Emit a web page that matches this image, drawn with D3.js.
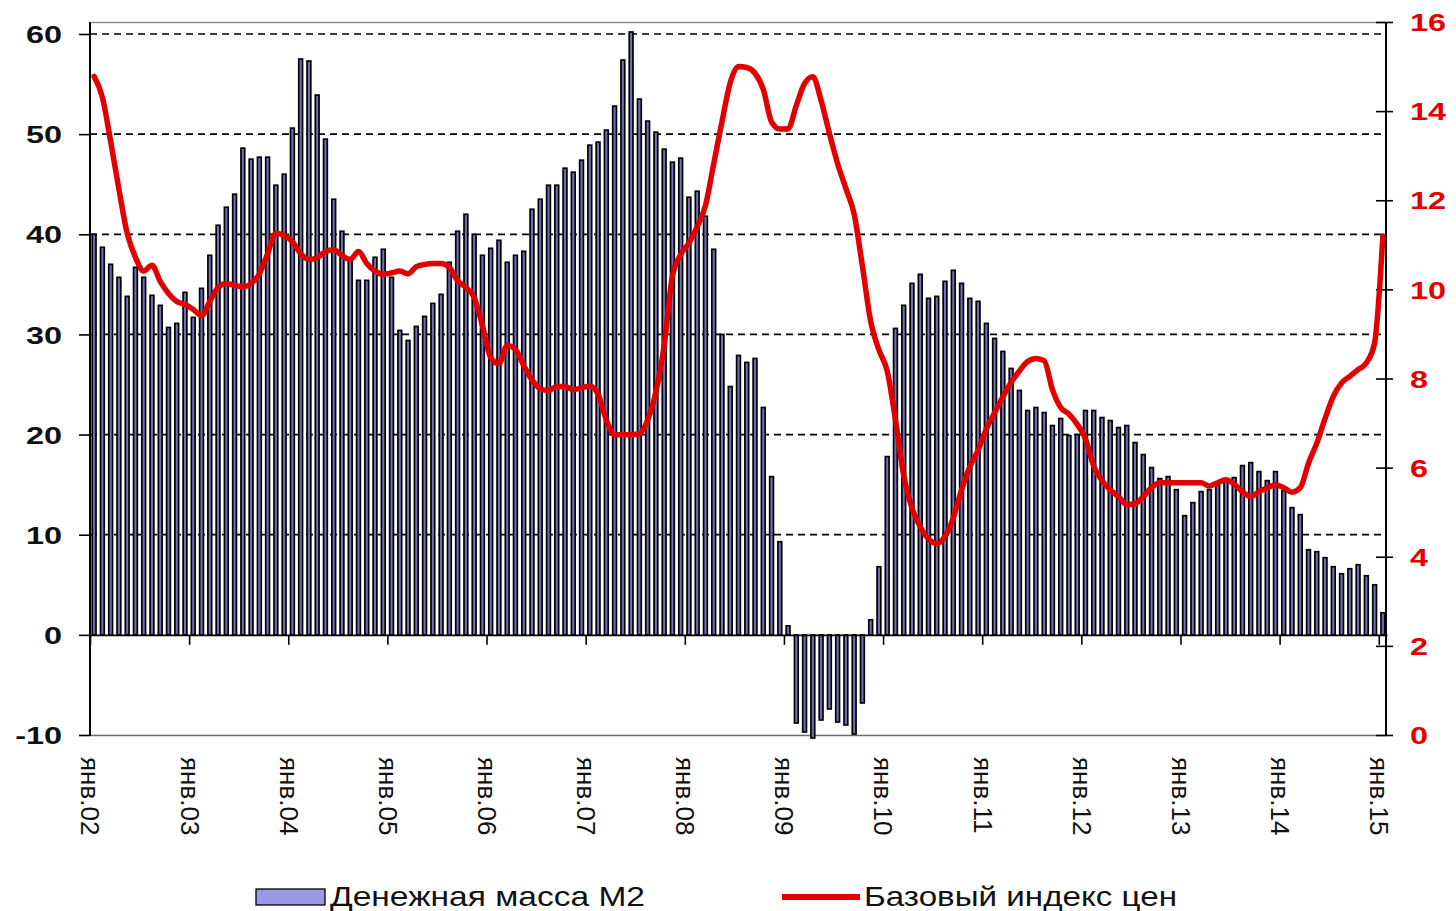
<!DOCTYPE html>
<html>
<head>
<meta charset="utf-8">
<script src="https://cdn.jsdelivr.net/npm/d3@7"></script>
<style>
  html, body { margin: 0; padding: 0; background: #fff; }
  svg { display: block; }
</style>
</head>
<body>
<svg id="chart" width="1456" height="911"></svg>
<script>
// ---------- data ----------
const startMonth = new Date(2002, 0, 1);
const endMonth = new Date(2015, 1, 1); // exclusive -> Jan 2002 .. Jan 2015
const months = d3.timeMonth.range(startMonth, endMonth);

const m2Values = [
  40.0, 38.7, 37.0, 35.7, 33.8, 36.7, 35.7, 33.9, 32.9, 30.7, 31.1, 34.2,
  31.7, 34.6, 37.9, 40.9, 42.7, 44.0, 48.6, 47.5, 47.7, 47.7, 44.9, 46.0,
  50.6, 57.5, 57.3, 53.9, 49.5, 43.5, 40.3, 37.4, 35.4, 35.4, 37.7, 38.5,
  35.7, 30.4, 29.4, 30.8, 31.8, 33.1, 34.0, 37.2, 40.3, 42.0, 40.0, 37.9,
  38.6, 39.4, 37.2, 37.9, 38.3, 42.5, 43.5, 44.9, 44.9, 46.6, 46.2, 47.4,
  48.9, 49.2, 50.4, 52.8, 57.4, 60.2, 53.5, 51.3, 50.2, 48.5, 47.2, 47.6,
  43.7, 44.3, 41.8, 38.5, 30.0, 24.8, 27.9, 27.2, 27.6, 22.7, 15.8, 9.3,
  0.9, -8.8, -9.7, -10.3, -8.5, -7.4, -8.7, -9.0, -9.9, -6.8, 1.5, 6.8,
  17.8, 30.6, 32.9, 35.1, 36.0, 33.6, 33.8, 35.3, 36.4, 35.1, 33.6, 33.3,
  31.1, 29.6, 28.3, 26.6, 24.4, 22.4, 22.7, 22.2, 20.9, 21.6, 19.9, 20.0,
  22.4, 22.4, 21.7, 21.4, 20.7, 20.9, 19.2, 18.0, 16.7, 15.6, 15.8, 14.5,
  11.9, 13.2, 14.3, 14.5, 15.0, 15.4, 15.7, 16.9, 17.2, 16.3, 15.4, 16.3,
  14.4, 12.7, 12.0, 8.5, 8.3, 7.7, 6.8, 6.1, 6.6, 7.0, 5.9, 5.0,
  2.2
];

const cpiValues = [
  14.78, 14.31, 13.32, 12.25, 11.26, 10.72, 10.41, 10.54, 10.18, 9.91, 9.73, 9.66,
  9.55, 9.41, 9.73, 10.04, 10.13, 10.09, 10.06, 10.13, 10.35, 10.80, 11.26, 11.21,
  11.07, 10.80, 10.67, 10.71, 10.85, 10.89, 10.76, 10.67, 10.85, 10.58, 10.41, 10.34,
  10.37, 10.41, 10.35, 10.51, 10.56, 10.58, 10.58, 10.49, 10.20, 10.04, 9.82, 9.19,
  8.47, 8.33, 8.74, 8.65, 8.29, 7.97, 7.77, 7.73, 7.82, 7.82, 7.75, 7.79,
  7.83, 7.65, 7.07, 6.74, 6.74, 6.74, 6.76, 7.07, 7.70, 8.74, 10.30, 10.78,
  11.04, 11.41, 11.88, 12.82, 13.76, 14.64, 15.00, 14.98, 14.85, 14.49, 13.76, 13.60,
  13.60, 14.13, 14.62, 14.77, 14.24, 13.50, 12.82, 12.26, 11.69, 10.52, 9.28, 8.64,
  8.17, 7.07, 5.82, 5.09, 4.67, 4.40, 4.29, 4.46, 4.87, 5.50, 6.02, 6.39,
  6.87, 7.23, 7.59, 7.91, 8.17, 8.38, 8.45, 8.40, 7.75, 7.35, 7.20, 6.97,
  6.65, 6.03, 5.71, 5.50, 5.35, 5.17, 5.19, 5.35, 5.55, 5.66, 5.66, 5.66,
  5.66, 5.66, 5.66, 5.59, 5.66, 5.73, 5.63, 5.46, 5.35, 5.46, 5.55, 5.61,
  5.55, 5.45, 5.55, 6.10, 6.55, 7.10, 7.60, 7.90, 8.05, 8.20, 8.35, 8.80,
  11.20
];

const leftTicks = [-10, 0, 10, 20, 30, 40, 50, 60];
const gridTicks = [10, 20, 30, 40, 50, 60];
const rightTicks = [0, 2, 4, 6, 8, 10, 12, 14, 16];
const xTickLabels = ["янв.02","янв.03","янв.04","янв.05","янв.06","янв.07","янв.08",
                     "янв.09","янв.10","янв.11","янв.12","янв.13","янв.14","янв.15"];
const seriesNames = ["Денежная масса М2", "Базовый индекс цен"];

// ---------- layout ----------
const plotLeft = 90, plotRight = 1387, plotTop = 22, plotBottom = 735;
const RED = "#e30000";
const FONT = "'Liberation Sans', Arial, sans-serif";

const svg = d3.select("#chart");

const x = d3.scaleBand()
  .domain(d3.range(months.length))
  .range([plotLeft, plotRight])
  .paddingInner(0.34)
  .paddingOuter(0.17);

const xm = d3.scaleLinear().domain([0, months.length]).range([plotLeft, plotRight]);

const yL = d3.scaleLinear().domain([-10, 60]).range([plotBottom, 34]);
const yR = d3.scaleLinear().domain([0, 16]).range([plotBottom, plotTop]);

// frame lines (top / bottom)
svg.append("line").attr("x1", plotLeft).attr("x2", plotRight - 1).attr("y1", plotTop + 0.5).attr("y2", plotTop + 0.5)
  .attr("stroke", "#8a8a8a").attr("stroke-width", 1.3);
svg.append("line").attr("x1", plotLeft).attr("x2", plotRight - 1).attr("y1", plotBottom + 0.5).attr("y2", plotBottom + 0.5)
  .attr("stroke", "#6a6a6a").attr("stroke-width", 1.3);

// gridlines
svg.append("g").selectAll("line").data(gridTicks).join("line")
  .attr("x1", plotLeft).attr("x2", plotRight - 1)
  .attr("y1", d => yL(d)).attr("y2", d => yL(d))
  .attr("stroke", "#000").attr("stroke-width", 1.7)
  .attr("stroke-dasharray", "7,5");

// bars
const bw = x.bandwidth();
const sw = 1.7;
svg.append("g").selectAll("rect").data(m2Values).join("rect")
  .attr("x", (d, i) => x(i) + sw / 2)
  .attr("width", bw - sw)
  .attr("y", d => Math.min(yL(d), yL(0)))
  .attr("height", d => Math.abs(yL(d) - yL(0)))
  .attr("fill", "#7070b8")
  .attr("stroke", "#000")
  .attr("stroke-width", sw);

// x axis at zero (ticks at each January)
const janIdx = d3.range(0, months.length, 12);
const xAxisG = svg.append("g").attr("transform", `translate(0,${yL(0)})`)
  .call(d3.axisBottom(xm).tickValues(janIdx).tickSize(10).tickSizeOuter(0).tickFormat(""));
xAxisG.select(".domain").attr("stroke", "#000").attr("stroke-width", 1.6);
xAxisG.selectAll(".tick line").attr("stroke", "#000").attr("stroke-width", 1.6);

// x labels (rotated) below plot
const xLab = svg.append("g").attr("transform", `translate(0,${plotBottom})`)
  .call(d3.axisBottom(xm).tickValues(janIdx).tickSize(0).tickFormat((d, i) => xTickLabels[i]));
xLab.select(".domain").remove();
xLab.selectAll(".tick text")
  .attr("transform", "rotate(90)")
  .attr("x", 22).attr("y", 0).attr("dy", "0.35em")
  .attr("text-anchor", "start")
  .attr("font-family", FONT).attr("font-size", 26).attr("fill", "#111");

// left axis
const leftG = svg.append("g").attr("transform", `translate(${plotLeft},0)`)
  .call(d3.axisLeft(yL).tickValues(leftTicks).tickSize(11).tickSizeOuter(0).tickFormat(d => String(d)));
leftG.select(".domain").remove();
leftG.selectAll(".tick line").attr("stroke", "#000").attr("stroke-width", 1.6);
leftG.selectAll(".tick text")
  .attr("font-family", FONT).attr("font-weight", "bold").attr("font-size", 24)
  .attr("fill", "#111")
  .attr("transform", "scale(1.35,1)")
  .attr("x", -28 / 1.35).attr("dy", "0.36em");
svg.append("line").attr("x1", plotLeft).attr("x2", plotLeft).attr("y1", plotTop).attr("y2", plotBottom + 1)
  .attr("stroke", "#000").attr("stroke-width", 2);

// right axis
const rightG = svg.append("g").attr("transform", `translate(${plotRight - 1},0)`)
  .call(d3.axisRight(yR).tickValues(rightTicks).tickSize(7).tickSizeOuter(0).tickFormat(d => String(d)));
rightG.select(".domain").remove();
rightG.selectAll(".tick line").attr("x1", -10).attr("stroke", "#000").attr("stroke-width", 1.6);
rightG.selectAll(".tick text")
  .attr("font-family", FONT).attr("font-weight", "bold").attr("font-size", 24)
  .attr("fill", RED)
  .attr("transform", "scale(1.35,1)")
  .attr("x", 24 / 1.35).attr("dy", "0.36em");
svg.append("line").attr("x1", plotRight - 1).attr("x2", plotRight - 1).attr("y1", plotTop).attr("y2", plotBottom + 1)
  .attr("stroke", "#000").attr("stroke-width", 2);

// red line (core price index)
const line = d3.line()
  .x((d, i) => x(i) + bw / 2)
  .y(d => yR(d))
  .curve(d3.curveMonotoneX);
svg.append("path").datum(cpiValues)
  .attr("d", line)
  .attr("fill", "none")
  .attr("stroke", RED)
  .attr("stroke-width", 5.5)
  .attr("stroke-linejoin", "round")
  .attr("stroke-linecap", "round");

// legend
const leg = svg.append("g");
leg.append("rect").attr("x", 256).attr("y", 889).attr("width", 69).attr("height", 16)
  .attr("fill", "#9999e6").attr("stroke", "#000").attr("stroke-width", 1.3);
leg.append("text").attr("x", 330).attr("y", 906).text(seriesNames[0])
  .attr("font-family", FONT).attr("font-size", 28).attr("fill", "#111")
  .attr("textLength", 315).attr("lengthAdjust", "spacingAndGlyphs");
leg.append("line").attr("x1", 782).attr("x2", 860).attr("y1", 897).attr("y2", 897)
  .attr("stroke", RED).attr("stroke-width", 6);
leg.append("text").attr("x", 864).attr("y", 906).text(seriesNames[1])
  .attr("font-family", FONT).attr("font-size", 28).attr("fill", "#111")
  .attr("textLength", 313).attr("lengthAdjust", "spacingAndGlyphs");
</script>
</body>
</html>
